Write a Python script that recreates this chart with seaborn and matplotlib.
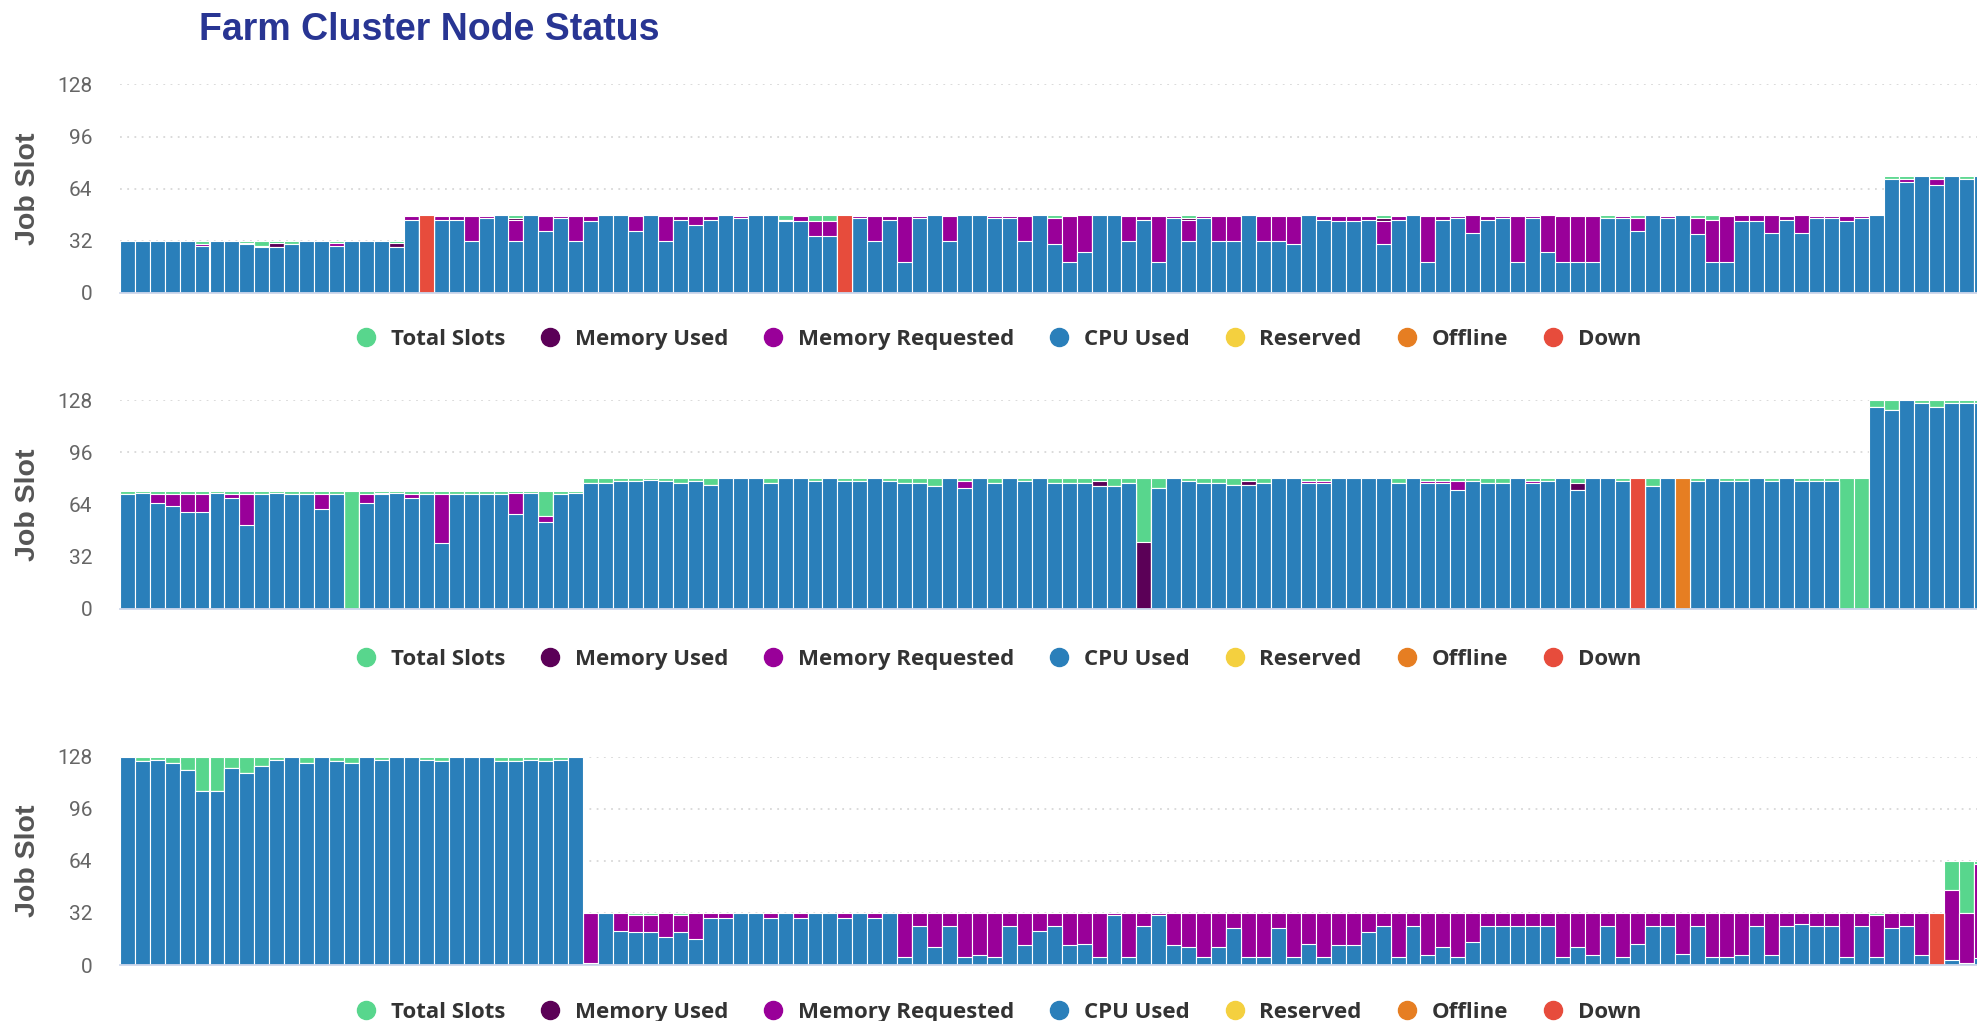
import numpy as np
import pandas as pd
import matplotlib
matplotlib.use('Agg')
import matplotlib.pyplot as plt
from matplotlib.lines import Line2D
from matplotlib.font_manager import FontProperties
import seaborn as sns

sns.set_style('white')
plt.rcParams['font.family'] = ['Liberation Sans', 'DejaVu Sans']

N_NODES = 125

# ---------------- Panel 1 ----------------
p1_cpu = [32,32,32,32,32, 29,32,32,30,28, 28,30,32,32,29, 32,32,32,28,45, 0,45,45,32,46,
          48,32,48,38,46, 32,44,48,48,38, 48,32,45,42,45, 48,46,48,48,44, 44,35,35,0,46,
          32,45,19,46,48, 32,48,48,46,46, 32,48,30,19,25, 48,48,32,45,19, 46,32,46,32,32,
          48,32,32,30,48, 45,44,44,45,30, 45,48,19,45,46, 37,45,46,19,46, 25,19,19,19,46,
          46,38,48,46,48, 36,19,19,44,44, 37,45,37,46,46, 44,46,48,70,68, 72,66,72,70,72]
p1_memreq = [0,0,0,0,0, 1,0,0,1,1, 0,0,0,0,2, 0,0,0,0,2, 0,2,2,15,1,
             0,13,0,9,1, 15,3,0,0,9, 0,15,2,5,2, 0,1,0,0,1, 3,9,9,0,1,
             15,2,28,1,0, 15,0,0,1,1, 15,0,16,28,23, 0,0,15,2,28, 1,13,1,15,15,
             0,15,15,17,0, 2,3,3,2,14, 2,0,28,2,1, 11,2,1,28,1, 23,28,28,28,0,
             1,8,0,1,0, 10,26,28,4,4, 11,2,11,1,1, 3,1,0,0,2, 0,4,0,0,0]
p1_memused = [0,0,0,0,0, 0,0,0,0,0, 3,0,0,0,0, 0,0,0,3,0, 0,0,0,0,0,
              0,1,0,0,0, 0,0,0,0,0, 0,0,0,0,0, 0,0,0,0,0, 0,0,0,0,0,
              0,0,0,0,0, 0,0,0,0,0, 0,0,0,0,0, 0,0,0,0,0, 0,1,0,0,0,
              0,0,0,0,0, 0,0,0,0,2, 0,0,0,0,0, 0,0,0,0,0, 0,0,0,0,0,
              0,0,0,0,0, 0,0,0,0,0, 0,0,0,0,0, 0,0,0,0,0, 0,0,0,0,0]
p1_free = [0,0,0,0,0, 2,0,0,1,3, 1,2,0,0,1, 0,0,0,1,1, 0,1,1,1,1,
           0,2,0,1,1, 1,1,0,0,1, 0,1,1,1,1, 0,1,0,0,3, 1,4,4,0,1,
           1,1,1,1,0, 1,0,0,1,1, 1,0,2,1,0, 0,0,1,1,1, 1,2,1,1,1,
           0,1,1,1,0, 1,1,1,1,2, 1,0,1,1,1, 0,1,1,1,1, 0,1,1,1,2,
           1,2,0,1,0, 2,3,1,0,0, 0,1,0,1,1, 1,1,0,2,2, 0,2,0,2,0]
p1_down = [0,0,0,0,0, 0,0,0,0,0, 0,0,0,0,0, 0,0,0,0,0, 48,0,0,0,0,
           0,0,0,0,0, 0,0,0,0,0, 0,0,0,0,0, 0,0,0,0,0, 0,0,0,48,0,
           0,0,0,0,0, 0,0,0,0,0, 0,0,0,0,0, 0,0,0,0,0, 0,0,0,0,0,
           0,0,0,0,0, 0,0,0,0,0, 0,0,0,0,0, 0,0,0,0,0, 0,0,0,0,0,
           0,0,0,0,0, 0,0,0,0,0, 0,0,0,0,0, 0,0,0,0,0, 0,0,0,0,0]

# ---------------- Panel 2 ----------------
p2_cpu = [70,71,65,63,59, 59,71,68,51,70, 71,70,70,61,70, 0,65,70,71,68, 70,40,70,70,70,
          70,58,71,53,70, 71,77,77,78,78, 79,78,77,78,76, 80,80,80,77,80, 80,78,80,78,78,
          80,78,77,77,75, 80,74,80,77,80, 78,80,77,77,77, 75,75,77,0,74, 80,78,77,77,76,
          76,77,80,80,77, 77,80,80,80,80, 77,80,77,77,73, 78,77,77,80,77, 78,80,73,80,80,
          78,0,75,80,0, 78,80,78,78,80, 78,80,78,78,78, 0,0,124,122,128, 126,124,126,126,126]
p2_memreq = [0,0,5,7,11, 11,0,2,19,0, 0,0,0,9,0, 0,5,1,0,2, 0,30,0,0,0,
             0,13,0,4,0, 0,0,0,0,0, 0,0,0,0,0, 0,0,0,0,0, 0,0,0,0,0,
             0,0,0,0,0, 0,4,0,0,0, 0,0,0,0,0, 0,0,0,0,0, 0,0,0,0,0,
             0,0,0,0,1, 1,0,0,0,0, 0,0,1,1,5, 0,0,0,0,1, 0,0,0,0,0,
             0,0,0,0,0, 0,0,0,0,0, 0,0,0,0,0, 0,0,0,0,0, 0,0,0,0,0]
p2_memused = [0,0,0,0,0, 0,0,0,0,0, 0,0,0,0,0, 0,0,0,0,0, 0,0,0,0,0,
              0,0,0,0,0, 0,0,0,0,0, 0,0,0,0,0, 0,0,0,0,0, 0,0,0,0,0,
              0,0,0,0,0, 0,0,0,0,0, 0,0,0,0,0, 3,0,0,41,0, 0,0,0,0,0,
              2,0,0,0,0, 0,0,0,0,0, 0,0,0,0,0, 0,0,0,0,0, 0,0,4,0,0,
              0,0,0,0,0, 0,0,0,0,0, 0,0,0,0,0, 0,0,0,0,0, 0,0,0,0,0]
p2_free = [2,1,2,2,2, 2,1,2,2,2, 1,2,2,2,2, 72,2,1,1,2, 2,2,2,2,2,
           2,1,1,15,2, 1,3,3,2,2, 1,2,3,2,4, 0,0,0,3,0, 0,2,0,2,2,
           0,2,3,3,5, 0,2,0,3,0, 2,0,3,3,3, 2,5,3,39,6, 0,2,3,3,4,
           2,3,0,0,2, 2,0,0,0,0, 3,0,2,2,2, 2,3,3,0,2, 2,0,3,0,0,
           2,0,5,0,0, 2,0,2,2,0, 2,0,2,2,2, 80,80,4,6,0, 2,4,2,2,2]
p2_down = [0,0,0,0,0, 0,0,0,0,0, 0,0,0,0,0, 0,0,0,0,0, 0,0,0,0,0,
           0,0,0,0,0, 0,0,0,0,0, 0,0,0,0,0, 0,0,0,0,0, 0,0,0,0,0,
           0,0,0,0,0, 0,0,0,0,0, 0,0,0,0,0, 0,0,0,0,0, 0,0,0,0,0,
           0,0,0,0,0, 0,0,0,0,0, 0,0,0,0,0, 0,0,0,0,0, 0,0,0,0,0,
           0,80,0,0,0, 0,0,0,0,0, 0,0,0,0,0, 0,0,0,0,0, 0,0,0,0,0]
p2_offline = [0,0,0,0,0, 0,0,0,0,0, 0,0,0,0,0, 0,0,0,0,0, 0,0,0,0,0,
              0,0,0,0,0, 0,0,0,0,0, 0,0,0,0,0, 0,0,0,0,0, 0,0,0,0,0,
              0,0,0,0,0, 0,0,0,0,0, 0,0,0,0,0, 0,0,0,0,0, 0,0,0,0,0,
              0,0,0,0,0, 0,0,0,0,0, 0,0,0,0,0, 0,0,0,0,0, 0,0,0,0,0,
              0,0,0,0,80, 0,0,0,0,0, 0,0,0,0,0, 0,0,0,0,0, 0,0,0,0,0]

# ---------------- Panel 3 ----------------
p3_cpu = [128,125,126,124,120, 107,107,121,118,122, 126,128,124,128,125, 124,128,126,128,128, 126,125,128,128,128,
          125,125,126,125,126, 128,1,32,21,20, 20,17,20,16,29, 29,32,32,29,32, 29,32,32,29,32,
          29,32,5,24,11, 24,5,6,5,24, 12,21,24,12,13, 5,31,5,24,31, 12,11,5,11,23,
          5,5,23,5,13, 5,12,12,20,24, 5,24,6,11,5, 14,24,24,24,24, 24,5,11,6,24,
          5,13,24,24,7, 24,5,5,6,24, 6,24,25,24,24, 5,24,5,23,24, 6,0,3,1,4]
p3_memreq = [0,0,0,0,0, 0,0,0,0,0, 0,0,0,0,0, 0,0,0,0,0, 0,0,0,0,0,
             0,0,0,0,0, 0,31,0,11,11, 11,15,11,16,3, 3,0,0,3,0, 3,0,0,3,0,
             3,0,27,8,21, 8,27,26,27,8, 20,11,8,20,19, 27,1,27,8,1, 20,21,27,21,9,
             27,27,9,27,19, 27,20,20,12,8, 27,8,26,21,27, 18,8,8,8,8, 8,27,21,26,8,
             27,19,8,8,25, 8,27,27,26,8, 26,8,7,8,8, 27,8,26,9,8, 26,0,43,31,58]
p3_free = [0,3,2,4,8, 21,21,7,10,6, 2,0,4,0,3, 4,0,2,0,0, 2,3,0,0,0,
           3,3,2,3,2, 0,0,0,0,1, 1,0,1,0,0, 0,0,0,0,0, 0,0,0,0,0,
           0,0,0,0,0, 0,0,0,0,0, 0,0,0,0,0, 0,0,0,0,0, 0,0,0,0,0,
           0,0,0,0,0, 0,0,0,0,0, 0,0,0,0,0, 0,0,0,0,0, 0,0,0,0,0,
           0,0,0,0,0, 0,0,0,0,0, 0,0,0,0,0, 0,0,1,0,0, 0,0,18,32,2]
p3_down = [0,0,0,0,0, 0,0,0,0,0, 0,0,0,0,0, 0,0,0,0,0, 0,0,0,0,0,
           0,0,0,0,0, 0,0,0,0,0, 0,0,0,0,0, 0,0,0,0,0, 0,0,0,0,0,
           0,0,0,0,0, 0,0,0,0,0, 0,0,0,0,0, 0,0,0,0,0, 0,0,0,0,0,
           0,0,0,0,0, 0,0,0,0,0, 0,0,0,0,0, 0,0,0,0,0, 0,0,0,0,0,
           0,0,0,0,0, 0,0,0,0,0, 0,0,0,0,0, 0,0,0,0,0, 0,32,0,0,0]

legend_labels = ['Total Slots', 'Memory Used', 'Memory Requested', 'CPU Used',
                 'Reserved', 'Offline', 'Down']
y_ticks = [0, 32, 64, 96, 128]
title_text = 'Farm Cluster Node Status'
y_label = 'Job Slot'

colors = {
    'Total Slots': '#58d68d',
    'Memory Used': '#5b0057',
    'Memory Requested': '#990099',
    'CPU Used': '#2a7fba',
    'Reserved': '#f4d03f',
    'Offline': '#e67e22',
    'Down': '#e74c3c',
}
stack_bottom_to_top = ['Down', 'Offline', 'Reserved', 'CPU Used',
                       'Memory Requested', 'Memory Used', 'Total Slots']

panels = [
    {'CPU Used': p1_cpu, 'Memory Requested': p1_memreq, 'Memory Used': p1_memused,
     'Total Slots': p1_free, 'Down': p1_down},
    {'CPU Used': p2_cpu, 'Memory Requested': p2_memreq, 'Memory Used': p2_memused,
     'Total Slots': p2_free, 'Down': p2_down, 'Offline': p2_offline},
    {'CPU Used': p3_cpu, 'Memory Requested': p3_memreq,
     'Total Slots': p3_free, 'Down': p3_down},
]
for k, pdata in enumerate(panels):
    for name, vals in pdata.items():
        assert len(vals) == N_NODES, (k, name, len(vals))

W, H = 1977, 1021
fig = plt.figure(figsize=(W / 100, H / 100), dpi=100)

left_px = 119.8
panel_tops = [84.5, 400.0, 756.5]
panel_h = 208.5
legend_y = [339, 659, 1012]


def draw_panel(ax, data):
    nodes = pd.Series(np.arange(N_NODES), name='node')
    cum = np.zeros(N_NODES)
    cums = {}
    for name in stack_bottom_to_top:
        vals = np.asarray(data.get(name, np.zeros(N_NODES)), dtype=float)
        cum = cum + vals
        cums[name] = cum.copy()
    for name in reversed(stack_bottom_to_top):
        sns.barplot(x=nodes, y=cums[name], color=colors[name], saturation=1,
                    width=1.0, edgecolor='white', linewidth=0.8,
                    errorbar=None, ax=ax)
    ax.set_xlim(-0.5, -0.5 + (W - left_px) / 14.95)
    ax.set_ylim(0, 128)
    ax.set_yticks(y_ticks)
    ax.set_xticks([])
    ax.set_xlabel('')
    ax.set_ylabel('')
    ax.set_axisbelow(True)
    ax.yaxis.grid(True, linestyle=(0, (1, 3)), color='#d8d8d8', linewidth=1.3)
    ax.xaxis.grid(False)
    for s in ['left', 'right', 'top']:
        ax.spines[s].set_visible(False)
    ax.spines['bottom'].set_color('#ccd6eb')
    ax.spines['bottom'].set_linewidth(1.3)
    ax.tick_params(axis='y', length=0, pad=20, labelsize=15, labelcolor='#666666',
                   labelfontfamily='Roboto')
    ax.text(-(left_px - 28) / (W - left_px), 0.5, y_label, transform=ax.transAxes,
            rotation=90, ha='center', va='center', fontsize=20.5,
            fontweight='bold', color='#555555')


handles = [Line2D([], [], marker='o', linestyle='', markersize=13,
                  markerfacecolor=colors[n], markeredgecolor=colors[n])
           for n in legend_labels]

for k, pdata in enumerate(panels):
    top = panel_tops[k]
    ax = fig.add_axes([left_px / W, 1 - (top + panel_h) / H,
                       1 - left_px / W, panel_h / H])
    draw_panel(ax, pdata)
    fig.legend(handles, legend_labels, ncol=7, loc='center',
               bbox_to_anchor=(998 / W, 1 - legend_y[k] / H), frameon=False,
               prop=FontProperties(family='Open Sans', weight='bold', size=16),
               labelcolor='#333333', handlelength=1.0, handletextpad=0.6,
               columnspacing=1.54, borderpad=0.1)

fig.text(199 / W, 1 - 40 / H, title_text, ha='left', va='baseline',
         fontsize=27, fontweight='bold', color='#283593')

fig.savefig('out.png', dpi=100, facecolor='white')
